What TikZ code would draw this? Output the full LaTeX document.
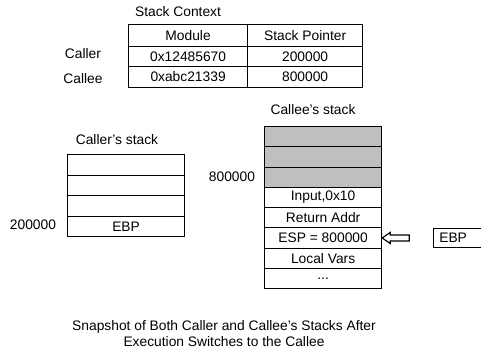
\documentclass[tikz,border=0pt]{standalone}
\usepackage{fontspec}
\setmainfont{Liberation Sans}
\usetikzlibrary{calc}
\begin{document}
\begin{tikzpicture}[x=1pt,y=-1pt,
  font=\fontsize{13.8}{16}\selectfont,
  cell/.style={draw, line width=1.2pt, rectangle, inner sep=0pt, anchor=north west},
  tcell/.style={cell, minimum height=21pt},
  scell/.style={cell, minimum width=117pt, minimum height=20.5pt},
  kcell/.style={cell, minimum width=117pt, minimum height=20.25pt},
  greycell/.style={kcell, fill=black!25},
  lbl/.style={inner sep=0pt}]
\useasboundingbox (0,0) rectangle (481,354);

% stack context table
\node[lbl] (ctxtitle) at (178,12) {Stack Context};
\node[tcell, minimum width=119pt, minimum height=22pt] (hmod) at (128,24) {Module};
\node[tcell, minimum width=115pt, minimum height=22pt] (hsp) at (247,24) {Stack Pointer};
\node[tcell, minimum width=119pt, minimum height=20pt] (m1) at (128,46) {0x12485670};
\node[tcell, minimum width=115pt, minimum height=20pt] (s1) at (247,46) {200000};
\node[tcell, minimum width=119pt] (m2) at (128,66) {\raisebox{1.5pt}{0xabc21339}};
\node[tcell, minimum width=115pt] (s2) at (247,66) {\raisebox{1.5pt}{800000}};
\node[lbl] (callerlbl) at (83,54) {Caller};
\node[lbl] (calleelbl) at (83,79) {Callee};

% caller's stack
\node[lbl] (callertitle) at (117,140) {Caller's stack};
\node[scell] (c1) at (67,154) {};
\node[scell] (c2) at (67,174.5) {};
\node[scell] (c3) at (67,195) {};
\node[scell] (c4) at (67,215.5) {EBP};
\node[lbl] (caddr) at (33,225) {200000};

% callee's stack
\node[lbl] (calleetitle) at (313,110) {Callee's stack};
\node[greycell] (k1) at (264,126) {};
\node[greycell] (k2) at (264,146.25) {};
\node[greycell] (k3) at (264,166.5) {};
\node[kcell] (k4) at (264,186.75) {Input,0x10};
\node[kcell] (k5) at (264,207) {Return Addr};
\node[kcell] (esp) at (264,227.25) {ESP = 800000};
\node[kcell] (k7) at (264,247.5) {Local Vars};
\node[kcell] (k8) at (264,267.75) {...};
\node[lbl] (kaddr) at (232,177) {800000};

% EBP register pointing at the ESP slot
\node[cell, minimum width=52pt, minimum height=19pt] (ebp) at (433,228) {\hspace*{-13pt}EBP};
\coordinate (e) at (esp.east);
\draw[line width=1.2pt, fill=white]
  ($(e)+(27,-3)$) -- ($(e)+(8,-3)$) -- ($(e)+(8,-5.5)$) -- (e)
  -- ($(e)+(8,5.5)$) -- ($(e)+(8,3)$) -- ($(e)+(27,3)$) -- cycle;

% caption
\node[lbl, align=center] (caption) at (224,334)
  {Snapshot of Both Caller and Callee's Stacks After\\Execution Switches to the Callee};
\end{tikzpicture}
\end{document}
